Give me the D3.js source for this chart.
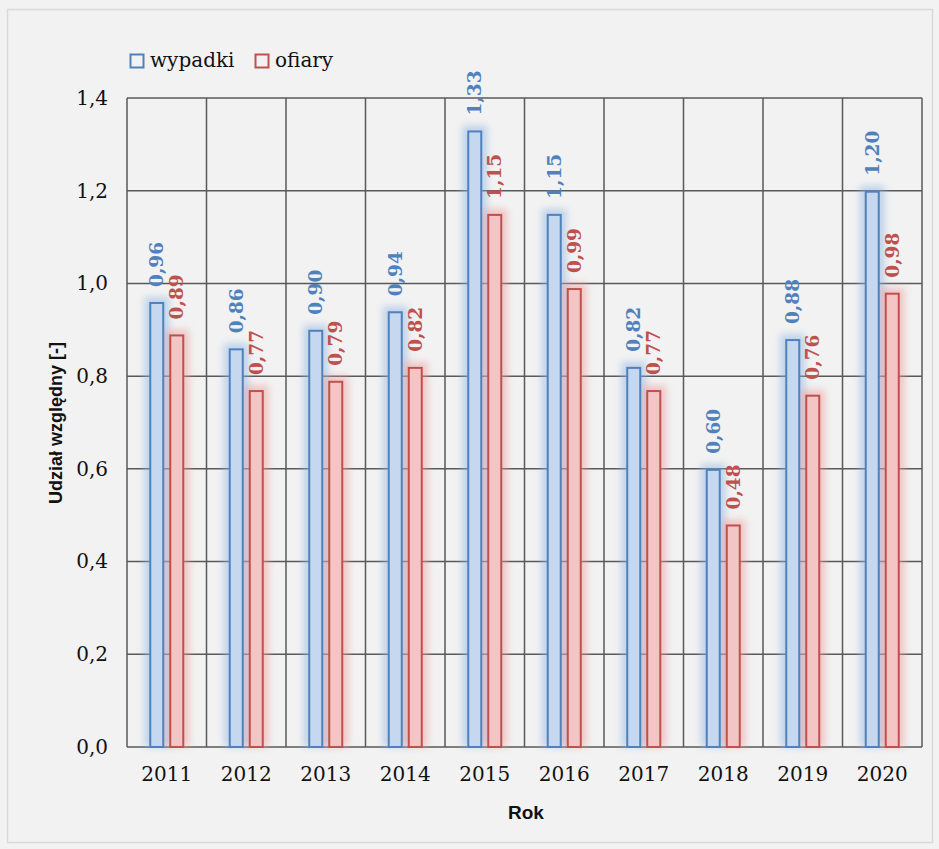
<!DOCTYPE html>
<html>
<head>
<meta charset="utf-8">
<script src="https://cdn.jsdelivr.net/npm/d3@7/dist/d3.min.js"></script>
<style>
  html, body { margin: 0; padding: 0; background: #f2f2f2; }
  svg { display: block; }
</style>
</head>
<body>
<div id="chart"></div>
<script>
// Udział względny wypadków i ofiar w latach 2011–2020
const years = ["2011", "2012", "2013", "2014", "2015", "2016", "2017", "2018", "2019", "2020"];
const wypadki = [0.96, 0.86, 0.90, 0.94, 1.33, 1.15, 0.82, 0.60, 0.88, 1.20];
const ofiary  = [0.89, 0.77, 0.79, 0.82, 1.15, 0.99, 0.77, 0.48, 0.76, 0.98];
const seriesNames = ["wypadki", "ofiary"];
const yTicks = [0, 0.2, 0.4, 0.6, 0.8, 1.0, 1.2, 1.4];

const W = 939, H = 849;
const plot = { left: 127, right: 922, top: 98, bottom: 747 };

const colors = {
  wypadki: { stroke: "#4f81bd", fill: "#c5d8f0", glow: "#8fb4e3" },
  ofiary:  { stroke: "#c0504d", fill: "#f3c6c5", glow: "#ec9c9a" }
};

const fmt = v => d3.format(".2f")(v).replace(".", ",");
const fmtTick = v => d3.format(".1f")(v).replace(".", ",");

const svg = d3.select("#chart").append("svg")
  .attr("width", W).attr("height", H);

// soft glow behind each bar
const defs = svg.append("defs");
defs.append("filter").attr("id", "glow")
  .attr("x", "-100%").attr("y", "-20%").attr("width", "300%").attr("height", "140%")
  .append("feGaussianBlur").attr("stdDeviation", 3.5);

// outer frame
svg.append("rect")
  .attr("x", 7.5).attr("y", 9.5)
  .attr("width", 925).attr("height", 833)
  .attr("fill", "#f2f2f2").attr("stroke", "#d9d9d9").attr("stroke-width", 1.5);

const x = d3.scaleBand().domain(years).range([plot.left, plot.right]).paddingInner(0).paddingOuter(0);
const xs = d3.scaleBand().domain(seriesNames).range([-17.5, 17.5]).paddingInner(0.25);
const y = d3.scaleLinear().domain([0, 1.4]).range([plot.bottom, plot.top]);

const serif = "'DejaVu Serif', 'Liberation Serif', serif";
const sans = "'Liberation Sans', 'DejaVu Sans', sans-serif";

// horizontal gridlines
const grid = svg.append("g").attr("stroke", "#595959").attr("stroke-width", 1.5);
grid.selectAll("line.h").data(yTicks).join("line")
  .attr("class", "h")
  .attr("x1", plot.left).attr("x2", plot.right)
  .attr("y1", d => y(d)).attr("y2", d => y(d));
// vertical gridlines at category boundaries
const bounds = years.map(d => x(d)).concat([plot.right]);
grid.selectAll("line.v").data(bounds).join("line")
  .attr("class", "v")
  .attr("x1", d => d).attr("x2", d => d)
  .attr("y1", plot.top).attr("y2", plot.bottom);

// y axis labels
const yAxis = d3.axisLeft(y).tickValues(yTicks).tickFormat(fmtTick).tickSize(0).tickPadding(19);
const gy = svg.append("g").attr("transform", `translate(${plot.left},0)`).call(yAxis);
gy.select(".domain").remove();
gy.selectAll("text").attr("font-family", serif).attr("font-size", 20).attr("fill", "#111");

// x axis labels
const xAxis = d3.axisBottom(x).tickSize(0).tickPadding(20);
const gx = svg.append("g").attr("transform", `translate(0,${plot.bottom})`).call(xAxis);
gx.select(".domain").remove();
gx.selectAll("text").attr("font-family", serif).attr("font-size", 20).attr("fill", "#111");

// bars
const rows = years.map((yr, i) => ({ year: yr, values: [
  { key: "wypadki", value: wypadki[i] },
  { key: "ofiary", value: ofiary[i] }
]}));

const groups = svg.append("g").selectAll("g").data(rows).join("g")
  .attr("transform", d => `translate(${x(d.year) + x.bandwidth() / 2},0)`);

// glow layer
groups.selectAll("rect.glow").data(d => d.values).join("rect")
  .attr("class", "glow")
  .attr("x", d => xs(d.key) - 5)
  .attr("width", xs.bandwidth() + 10)
  .attr("y", d => y(d.value) - 5)
  .attr("height", d => plot.bottom - y(d.value) + 5)
  .attr("fill", d => colors[d.key].glow)
  .attr("opacity", 0.5)
  .attr("filter", "url(#glow)");

groups.selectAll("rect.bar").data(d => d.values).join("rect")
  .attr("class", "bar")
  .attr("x", d => xs(d.key) + 1)
  .attr("width", xs.bandwidth() - 2)
  .attr("y", d => y(d.value) + 1)
  .attr("height", d => plot.bottom - y(d.value) - 1)
  .attr("fill", d => colors[d.key].fill)
  .attr("stroke", d => colors[d.key].stroke)
  .attr("stroke-width", 2);

// value labels, rotated
groups.selectAll("text.val").data(d => d.values).join("text")
  .attr("class", "val")
  .attr("transform", d => `translate(${xs(d.key) + xs.bandwidth() / 2},${y(d.value) - 15}) rotate(-90)`)
  .attr("dy", "0.36em")
  .attr("text-anchor", "start")
  .attr("font-family", serif)
  .attr("font-weight", "bold")
  .attr("font-size", 18.5)
  .attr("fill", d => colors[d.key].stroke)
  .text(d => fmt(d.value));

// axis titles
svg.append("text")
  .attr("transform", `translate(62,423) rotate(-90)`)
  .attr("text-anchor", "middle")
  .attr("font-family", sans).attr("font-weight", "bold").attr("font-size", 18)
  .attr("fill", "#111")
  .text("Udział względny [-]");

svg.append("text")
  .attr("x", 526).attr("y", 819)
  .attr("text-anchor", "middle")
  .attr("font-family", sans).attr("font-weight", "bold").attr("font-size", 19)
  .attr("fill", "#111")
  .text("Rok");

// legend
const legendItems = [
  { key: "wypadki", x: 130 },
  { key: "ofiary", x: 255 }
];
const lg = svg.append("g").selectAll("g").data(legendItems).join("g")
  .attr("transform", d => `translate(${d.x},54)`);
lg.append("rect")
  .attr("x", 0.5).attr("y", 0.5).attr("width", 13).attr("height", 13)
  .attr("fill", "none")
  .attr("stroke", d => colors[d.key].stroke).attr("stroke-width", 2);
lg.append("text")
  .attr("x", 20).attr("y", 13)
  .attr("font-family", serif).attr("font-size", 20).attr("fill", "#111")
  .text(d => d.key);
</script>
</body>
</html>
